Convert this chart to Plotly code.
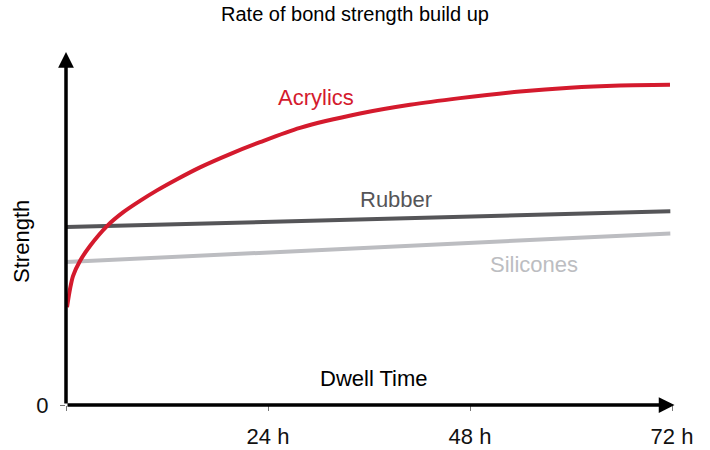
import plotly.graph_objects as go

# Data (hours, relative strength)
hours_acrylics = [0.12, 0.48, 0.83, 1.66, 2.85, 4.87, 6.77, 8.79, 10.81, 13.19,
                  15.92, 19.49, 23.05, 27.80, 34.93, 40.87, 46.81, 53.94, 59.88,
                  65.82, 71.76]
acrylics = [28.0, 33.2, 36.9, 41.2, 45.5, 51.2, 55.1, 58.4, 61.4, 64.6,
            68.0, 71.8, 75.2, 79.3, 83.4, 85.9, 87.8, 89.7, 90.8, 91.4, 91.6]
hours_flat = [0, 71.8]
rubber = [50.9, 55.4]
silicones = [40.9, 49.1]

tick_vals = [0, 24, 48, 72]
tick_text = ["", "24 h", "48 h", "72 h"]

RED = "#d41a2d"
DARK = "#555558"
LIGHT = "#bcbdc1"
FONT = "Liberation Sans, Arial, sans-serif"

fig = go.Figure()
fig.add_trace(go.Scatter(x=hours_flat, y=silicones, mode="lines",
                         line=dict(color=LIGHT, width=4), name="Silicones"))
fig.add_trace(go.Scatter(x=hours_flat, y=rubber, mode="lines",
                         line=dict(color=DARK, width=4), name="Rubber"))
fig.add_trace(go.Scatter(x=hours_acrylics, y=acrylics, mode="lines",
                         line=dict(color=RED, width=4, shape="spline", smoothing=0.8),
                         name="Acrylics"))

annotations = [
    # axis arrows
    dict(x=72.3, y=0, ax=0, ay=0, xref="x", yref="y", axref="x", ayref="y",
         text="", showarrow=True, arrowhead=2, arrowsize=0.9, arrowwidth=3.5,
         arrowcolor="black"),
    dict(x=0, y=101, ax=0, ay=0, xref="x", yref="y", axref="x", ayref="y",
         text="", showarrow=True, arrowhead=2, arrowsize=0.9, arrowwidth=3.5,
         arrowcolor="black"),
    dict(x=29.7, y=88.1, xref="x", yref="y", text="Acrylics", showarrow=False,
         xanchor="center", yanchor="middle",
         font=dict(color=RED, size=22, family=FONT)),
    dict(x=39.2, y=58.9, xref="x", yref="y", text="Rubber", showarrow=False,
         xanchor="center", yanchor="middle",
         font=dict(color=DARK, size=22, family=FONT)),
    dict(x=55.6, y=40.3, xref="x", yref="y", text="Silicones", showarrow=False,
         xanchor="center", yanchor="middle",
         font=dict(color=LIGHT, size=22, family=FONT)),
    dict(x=36.6, y=7.7, xref="x", yref="y", text="Dwell Time", showarrow=False,
         xanchor="center", yanchor="middle",
         font=dict(color="black", size=22, family=FONT)),
    dict(x=-0.0726, y=0.462, xref="paper", yref="paper", text="Strength",
         textangle=-90, showarrow=False, xanchor="center", yanchor="middle",
         font=dict(color="black", size=22, family=FONT)),
]

fig.update_layout(
    width=710, height=450,
    margin=dict(l=66, r=38, t=52, b=45),
    paper_bgcolor="white", plot_bgcolor="white",
    showlegend=False,
    title=dict(text="Rate of bond strength build up", x=0.5, xanchor="center",
               y=0.97, yanchor="middle",
               font=dict(size=20, color="black", family=FONT)),
    font=dict(family=FONT, color="black"),
    annotations=annotations,
)
fig.update_xaxes(range=[0, 72], tickvals=tick_vals, ticktext=tick_text,
                 ticks="outside", ticklen=5, tickcolor="#777", tickwidth=1,
                 showgrid=False, zeroline=False, showline=False, automargin=False,
                 tickfont=dict(size=22, color="#111", family=FONT),
                 ticklabelstandoff=7)
fig.update_yaxes(range=[0, 101], tickvals=[0], ticktext=["0"],
                 ticks="outside", ticklen=5, tickcolor="#777", tickwidth=1,
                 showgrid=False, zeroline=False, showline=False, automargin=False,
                 tickfont=dict(size=22, color="#111", family=FONT),
                 ticklabelstandoff=7)

fig.write_html("out.html", config={"displayModeBar": False},
               post_script="document.body.style.margin='0';document.body.style.overflow='hidden';")
